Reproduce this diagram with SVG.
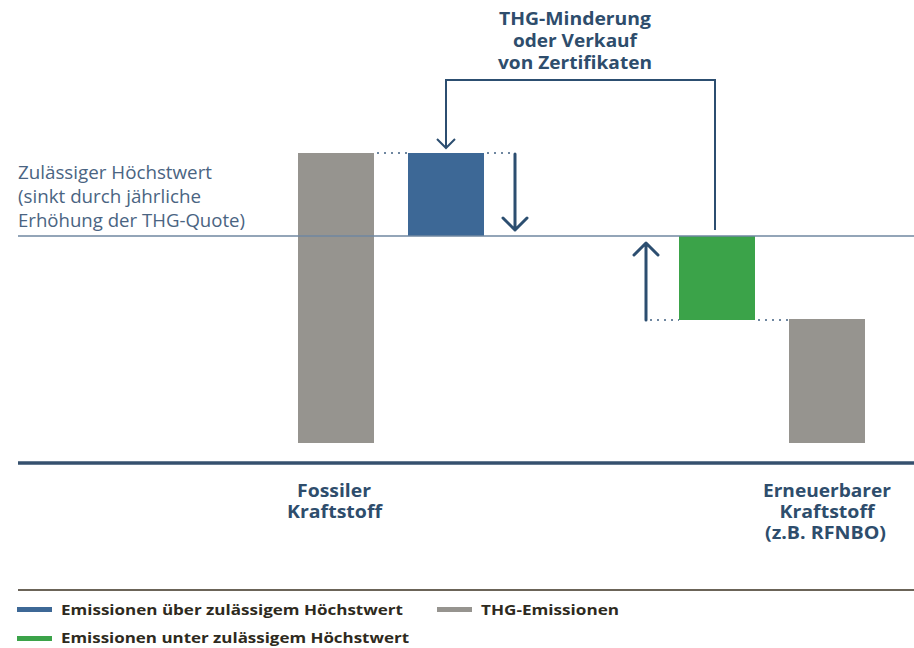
<svg xmlns="http://www.w3.org/2000/svg" width="914" height="648" viewBox="0 0 914 648">
<style>
.lbl{font-family:"Open Sans","Liberation Sans",sans-serif;font-weight:bold;fill:#2e4d6c;font-size:18px;text-anchor:middle}
.bl{font-size:17px}
.side{font-family:"Open Sans","Liberation Sans",sans-serif;fill:#4a6482;font-size:17.5px}
.leg{font-family:"Open Sans","Liberation Sans",sans-serif;font-weight:bold;fill:#2e2a20;font-size:15px}
.dot{stroke:#6f87a0;stroke-width:2;stroke-dasharray:2 5;fill:none}
.arr{stroke:#2c4e70;stroke-width:3;fill:none;stroke-linecap:round;stroke-linejoin:round}
</style>
<rect width="914" height="648" fill="#fff"/>
<g id="title"><text class="lbl" x="575" y="25" textLength="152" lengthAdjust="spacingAndGlyphs">THG-Minderung</text><text class="lbl" x="575" y="47" textLength="124" lengthAdjust="spacingAndGlyphs">oder Verkauf</text><text class="lbl" x="575" y="69" textLength="154" lengthAdjust="spacingAndGlyphs">von Zertifikaten</text></g>
<g id="limit-label"><text class="side" x="18" y="179" textLength="194" lengthAdjust="spacingAndGlyphs">Zulässiger Höchstwert</text><text class="side" x="18" y="203" textLength="183" lengthAdjust="spacingAndGlyphs">(sinkt durch jährliche</text><text class="side" x="18" y="227" textLength="227" lengthAdjust="spacingAndGlyphs">Erhöhung der THG-Quote)</text></g>
<g id="fossil-bar"><rect x="298" y="153" width="76" height="290" fill="#96948f"/></g>
<g id="blue-bar"><rect x="408" y="153" width="76" height="83" fill="#3d6896"/></g>
<g id="green-bar"><rect x="679" y="236" width="76" height="84" fill="#3ba349"/></g>
<g id="renewable-bar"><rect x="789" y="319" width="76" height="124" fill="#96948f"/></g>
<g id="limit-line"><line x1="18" y1="236" x2="914" y2="236" stroke="#6f87a0" stroke-width="1.6"/></g>
<g id="connectors">
<line class="dot" x1="377" y1="153" x2="408" y2="153"/>
<line class="dot" x1="487" y1="153" x2="514" y2="153"/>
<line class="dot" x1="650" y1="320" x2="679" y2="320"/>
<line class="dot" x1="758" y1="320" x2="789" y2="320"/>
<path class="arr" d="M515 154V230M503 218L515 230L527 218"/>
<path class="arr" d="M646 320V243M634 255L646 243L658 255"/>
<path d="M715 230V80H446V148" fill="none" stroke="#2c4e70" stroke-width="2"/>
<path d="M437 139L446 148L455 139" fill="none" stroke="#2c4e70" stroke-width="2"/>
</g>
<g id="baseline"><line x1="18" y1="463" x2="914" y2="463" stroke="#35506e" stroke-width="3.5"/></g>
<g id="fossil-label"><text class="lbl bl" x="334" y="497" textLength="74" lengthAdjust="spacingAndGlyphs">Fossiler</text><text class="lbl bl" x="334.5" y="518" textLength="95" lengthAdjust="spacingAndGlyphs">Kraftstoff</text></g>
<g id="renewable-label"><text class="lbl bl" x="827" y="497" textLength="128" lengthAdjust="spacingAndGlyphs">Erneuerbarer</text><text class="lbl bl" x="827" y="518" textLength="95" lengthAdjust="spacingAndGlyphs">Kraftstoff</text><text class="lbl bl" x="825.5" y="539" textLength="121" lengthAdjust="spacingAndGlyphs">(z.B. RFNBO)</text></g>
<g id="legend">
<line x1="18" y1="590" x2="914" y2="590" stroke="#3a3020" stroke-width="1.5"/>
<rect x="17" y="607" width="35" height="5" fill="#3d6896"/>
<text class="leg" x="61" y="615" textLength="342" lengthAdjust="spacingAndGlyphs">Emissionen über zulässigem Höchstwert</text>
<rect x="437" y="607" width="35" height="5" fill="#96948f"/>
<text class="leg" x="481" y="615" textLength="138" lengthAdjust="spacingAndGlyphs">THG-Emissionen</text>
<rect x="17" y="636" width="35" height="5" fill="#3ba349"/>
<text class="leg" x="61" y="643" textLength="348" lengthAdjust="spacingAndGlyphs">Emissionen unter zulässigem Höchstwert</text>
</g>
</svg>
